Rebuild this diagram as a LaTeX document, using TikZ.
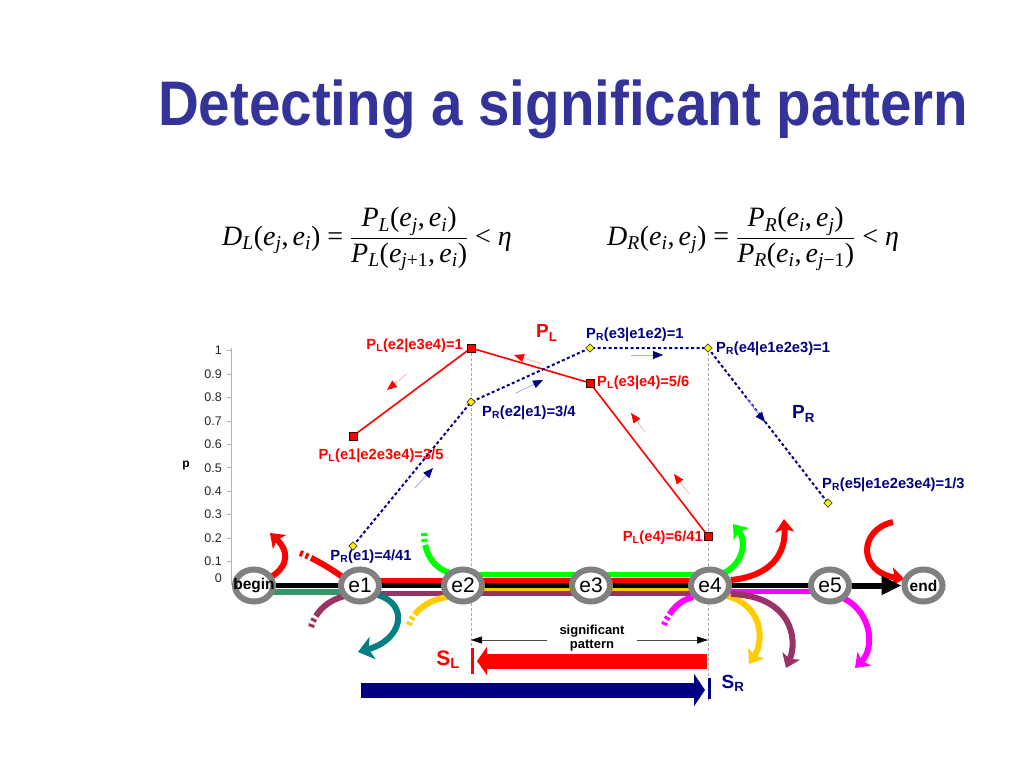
\documentclass[tikz,border=0pt]{standalone}
\usepackage{fontspec}
\usepackage{amsmath}
\usepackage{graphicx}
\setmainfont{Liberation Sans}
\newfontfamily\tms{Liberation Serif}
\usetikzlibrary{shapes.geometric,arrows.meta}
\definecolor{ttl}{RGB}{51,51,153}
\definecolor{nav}{RGB}{0,0,128}
\definecolor{grn}{RGB}{0,255,0}
\definecolor{pur}{RGB}{153,51,102}
\definecolor{tea}{RGB}{0,128,128}
\definecolor{gld}{RGB}{255,204,0}
\definecolor{mag}{RGB}{255,0,255}
\definecolor{dgr}{RGB}{51,153,102}
\definecolor{ring}{RGB}{128,128,128}
\newcommand{\ti}[1]{\text{\tms\itshape #1}}
\newcommand{\tu}[1]{\text{\tms #1}}
\newcommand{\sbx}[1]{\textsubscript{#1}}
\pgfdeclarelayer{bg}
\pgfsetlayers{bg,main}
\begin{document}
\begin{tikzpicture}[x=1pt,y=-1pt,
  ev/.style={ellipse, draw=ring, line width=6pt, fill=white, minimum width=38pt, minimum height=32pt, inner sep=0pt, font=\fontsize{21}{21}\selectfont},
  evb/.style={ev, font=\fontsize{15.5}{15.5}\selectfont\bfseries},
  lbl/.style={font=\fontsize{14.7}{14.7}\selectfont\bfseries, inner sep=0pt},
  lblL/.style={lbl, text=red},
  lblR/.style={lbl, text=nav},
  sqm/.style={rectangle, draw=black!80!red, fill=red, minimum size=8pt, inner sep=0pt, line width=0.8pt},
  dmm/.style={diamond, draw=black!75, fill=yellow, minimum size=8.5pt, inner sep=0pt, line width=0.7pt},
  plline/.style={red, line width=1.6pt},
  prline/.style={nav, line width=2pt, dash pattern=on 3pt off 2.5pt},
  tickl/.style={font=\fontsize{12.5}{12.5}\selectfont, text=black!85, inner sep=0pt, anchor=east},
  flow/.style={line width=5pt},
  cflow/.style={line width=6pt},
  bigtip/.style={-{Stealth[length=13pt,width=19pt,inset=3pt]}},
  fadestart/.style={dash pattern=on 3pt off 3pt on 3pt off 3pt on 300pt off 1pt},
  smL/.style={red!30, line width=0.8pt, -{Triangle[length=10pt,width=8pt,red]}},
  smR/.style={blue!35, line width=0.8pt, -{Triangle[length=10pt,width=8pt,nav]}},
  vdash/.style={gray!70, line width=0.6pt, dash pattern=on 3pt off 2pt},
  thinarr/.style={black!70, line width=0.6pt, -{Triangle[length=11pt,width=7pt,black]}}
]
\begin{pgfonlayer}{bg}
\fill[white] (0,0) rectangle (1024,768);
\end{pgfonlayer}
\useasboundingbox (0,0) rectangle (1024,768);

% title
\node[anchor=base west, inner sep=0pt, text=ttl] (title) at (158,125)
  {\resizebox{810pt}{\height}{\fontsize{63}{63}\selectfont\bfseries Detecting a significant pattern}};

% formulas
\node[anchor=west, inner sep=0pt] (fl) at (222,239) {\fontsize{28}{34}\selectfont
 $\ti{D}_{\ti{L}}\tu{(}\ti{e}_{\ti{j}}\mathpunct{\tu{,}}\ti{e}_{\ti{i}}\tu{)}\mathrel{\tu{=}}
 \dfrac{\ti{P}_{\ti{L}}\tu{(}\ti{e}_{\ti{j}}\mathpunct{\tu{,}}\ti{e}_{\ti{i}}\tu{)}}
       {\ti{P}_{\ti{L}}\tu{(}\ti{e}_{\ti{j}\tu{+1}}\mathpunct{\tu{,}}\ti{e}_{\ti{i}}\tu{)}}
 \mathrel{\tu{<}}\ti{η}$};
\node[anchor=west, inner sep=0pt] (fr) at (607,239) {\fontsize{28}{34}\selectfont
 $\ti{D}_{\ti{R}}\tu{(}\ti{e}_{\ti{i}}\mathpunct{\tu{,}}\ti{e}_{\ti{j}}\tu{)}\mathrel{\tu{=}}
 \dfrac{\ti{P}_{\ti{R}}\tu{(}\ti{e}_{\ti{i}}\mathpunct{\tu{,}}\ti{e}_{\ti{j}}\tu{)}}
       {\ti{P}_{\ti{R}}\tu{(}\ti{e}_{\ti{i}}\mathpunct{\tu{,}}\ti{e}_{\ti{j}\tu{−1}}\tu{)}}
 \mathrel{\tu{<}}\ti{η}$};

% axis
\draw[gray!60, line width=0.8pt] (231,348) -- (231,585);
\foreach \k/\t in {10/1,9/0.9,8/0.8,7/0.7,6/0.6,5/0.5,4/0.4,3/0.3,2/0.2,1/0.1}{
  \node[tickl] (tk\k) at (222,{585-23.44*\k}) {\t};
  \draw[gray!60, line width=0.8pt] (227,{585-23.44*\k}) -- (231,{585-23.44*\k});
}
\node[tickl] (tk0) at (222,578) {0};
\node[font=\fontsize{12}{12}\selectfont\bfseries, inner sep=0pt] (pax) at (186,466) {p};

% markers
\node[sqm] (pl1) at (353,436) {};
\node[sqm] (pl2) at (471,348) {};
\node[sqm] (pl3) at (590,383) {};
\node[sqm] (pl4) at (708,536) {};
\node[dmm] (pr1) at (353,546) {};
\node[dmm] (pr2) at (471,402) {};
\node[dmm] (pr3) at (590,348) {};
\node[dmm] (pr4) at (708,348) {};
\node[dmm] (pr5) at (828,503) {};

% events
\node[evb] (b) at (254,585.5) {\makebox[0pt]{begin}};
\node[ev] (e1) at (360,585.5) {\makebox[0pt]{e1}};
\node[ev] (e2) at (463,585.5) {\makebox[0pt]{e2}};
\node[ev] (e3) at (591,585.5) {\makebox[0pt]{e3}};
\node[ev] (e4) at (710,585.5) {\makebox[0pt]{e4}};
\node[ev] (e5) at (830,585.5) {\makebox[0pt]{e5}};
\node[evb] (en) at (923.5,585.5) {\makebox[0pt]{end}};

\coordinate (v2b) at (471,673);
\coordinate (v4b) at (708,702);

\begin{pgfonlayer}{bg}
\draw[vdash] (pl2.center) -- (v2b);
\draw[vdash] (pr4.center) -- (v4b);
\draw[plline] (pl1.center) -- (pl2.center) -- (pl3.center) -- (pl4.center);
\draw[prline] (pr1.center) -- (pr2.center) -- (pr3.center) -- (pr4.center) -- (pr5.center);
% timeline bundles
\draw[flow,dgr,line width=5.5pt] ([yshift=-6.5pt]b.center) -- ([yshift=-6.5pt]e1.center);
\draw[flow,pur] ([yshift=-8pt]e1.center) -- ([yshift=-8pt]e4.center);
\draw[gld,line width=2.2pt] ([yshift=-4pt]e2.center) -- ([yshift=-4pt]e4.center);
\draw[flow,mag] ([yshift=-5.5pt]e4.center) -- ([yshift=-5.5pt]e5.center);
\draw[flow,black] (b.center) -- (e5.center);
\draw[flow,red] ([yshift=5pt]e1.center) -- ([yshift=5pt]e4.center);
\draw[flow,grn] ([yshift=11pt]e2.center) -- ([yshift=11pt]e4.center);
% curves
\coordinate (c1) at (270,533);
\coordinate (c2) at (300,553);
\coordinate (c3) at (311,627);
\coordinate (c4) at (358,652);
\coordinate (c5) at (424,533);
\coordinate (c6) at (409,625);
\coordinate (c7) at (733,524);
\coordinate (c8) at (784,519);
\coordinate (c9) at (749,664);
\coordinate (c10) at (786,668);
\coordinate (c11) at (664,625);
\coordinate (c12) at (855,668);
\coordinate (c13) at (893,522);
\draw[cflow,red,bigtip] ([shift={(17,-8.5)}]b.center) .. controls (290,565) and (288,550) .. (c1);
\draw[cflow,red,fadestart] (c2) .. controls (315,559) and (330,568) .. ([shift={(-16,-7.5)}]e1.center);
\draw[cflow,pur,fadestart] (c3) .. controls (315,612) and (328,600) .. ([shift={(-15,10.5)}]e1.center);
\draw[cflow,tea,-{Stealth[length=15pt,width=23pt,inset=4pt]}] ([shift={(18,9.5)}]e1.center) .. controls (410,605) and (402,640) .. (c4);
\draw[cflow,grn,fadestart] (c5) .. controls (424,556) and (436,569) .. ([shift={(-13,-12.5)}]e2.center);
\draw[cflow,gld,fadestart] (c6) .. controls (414,610) and (430,599) .. ([shift={(-15,11.5)}]e2.center);
\draw[cflow,grn,bigtip] ([shift={(14,-12.5)}]e4.center) .. controls (745,562) and (746,540) .. (c7);
\draw[cflow,red,bigtip] ([shift={(21,-5.5)}]e4.center) .. controls (770,576) and (786,555) .. (c8);
\draw[cflow,gld,bigtip] ([shift={(17,10.5)}]e4.center) .. controls (762,605) and (765,640) .. (c9);
\draw[cflow,pur,bigtip] ([shift={(21,8.5)}]e4.center) .. controls (792,596) and (798,640) .. (c10);
\draw[cflow,mag,fadestart] (c11) .. controls (670,610) and (680,600) .. ([shift={(-17,11.5)}]e4.center);
\draw[cflow,mag,bigtip] ([shift={(13,12.5)}]e5.center) .. controls (872,612) and (875,648) .. (c12);
\draw[cflow,red,bigtip] (c13) .. controls (858,530) and (858,572) .. ([shift={(-19,-6.5)}]en.center);
\end{pgfonlayer}

% e5 -> end
\draw[black, line width=6pt, -{Triangle[length=20pt,width=18pt]}] (e5.east) -- (en.west);

% small direction arrows
\draw[smL] (407,374) -- (387,390);
\draw[smL] (542,364) -- (514,355);
\draw[smL] (645,432) -- (631,413);
\draw[smL] (689,494) -- (674,474);
\draw[smR] (415,488) -- (433,468);
\draw[smR] (516,393) -- (543,380);
\draw[smR] (631,355) -- (663,355);
\draw[smR] (746,398) -- (765,422);

% labels
\node[lblL, anchor=east] (lpl2) at (463,346) {P\sbx{L}(e2|e3e4)=1};
\node[lblL] (lpl1) at (381,456) {P\sbx{L}(e1|e2e3e4)=3/5};
\node[lblR] (lpr1) at (371,557) {P\sbx{R}(e1)=4/41};
\node[lblR, anchor=west] (lpr2) at (482,413) {P\sbx{R}(e2|e1)=3/4};
\node[lblL, anchor=west] (lpl3) at (597,383) {P\sbx{L}(e3|e4)=5/6};
\node[lblR, anchor=west] (lpr3) at (586,335) {P\sbx{R}(e3|e1e2)=1};
\node[lblR, anchor=west] (lpr4) at (716,349) {P\sbx{R}(e4|e1e2e3)=1};
\node[lblR, anchor=west] (lpr5) at (822,485) {P\sbx{R}(e5|e1e2e3e4)=1/3};
\node[lblL, anchor=east] (lpl4) at (703,538) {P\sbx{L}(e4)=6/41};
\node[font=\fontsize{19}{19}\selectfont\bfseries, text=red, inner sep=0pt, anchor=west] (PL) at (536,333) {P\sbx{L}};
\node[font=\fontsize{19}{19}\selectfont\bfseries, text=nav, inner sep=0pt, anchor=west] (PR) at (792,414) {P\sbx{R}};

% significant pattern
\coordinate (spl) at (471,640);
\coordinate (spr) at (708,640);
\node[font=\fontsize{13}{14}\selectfont\bfseries, align=center, inner xsep=12pt, inner ysep=0pt] (sp) at (592,638.5) {significant\\pattern};
\draw[thinarr] (sp.west |- spl) -- (spl);
\draw[thinarr] (sp.east |- spr) -- (spr);

% S_L arrow
\coordinate (slr) at (707,661);
\coordinate (slt) at (477,661);
\coordinate (slb1) at (472,648);
\coordinate (slb2) at (472,674);
\draw[red, line width=15pt, -{Triangle[length=10pt,width=28pt]}] (slr) -- (slt);
\draw[red, line width=3pt] (slb1) -- (slb2);
\node[font=\fontsize{21}{21}\selectfont\bfseries, text=red, inner sep=0pt] (SL) at (448,660) {S\sbx{L}};

% S_R arrow
\coordinate (srl) at (361,690);
\coordinate (srt) at (705,690);
\coordinate (srb1) at (709,678);
\coordinate (srb2) at (709,699);
\draw[nav, line width=15pt, -{Triangle[length=11pt,width=32pt]}] (srl) -- (srt);
\draw[nav, line width=3pt] (srb1) -- (srb2);
\node[font=\fontsize{19}{19}\selectfont\bfseries, text=nav, inner sep=0pt] (SR) at (733,683) {S\sbx{R}};
\end{tikzpicture}
\end{document}
